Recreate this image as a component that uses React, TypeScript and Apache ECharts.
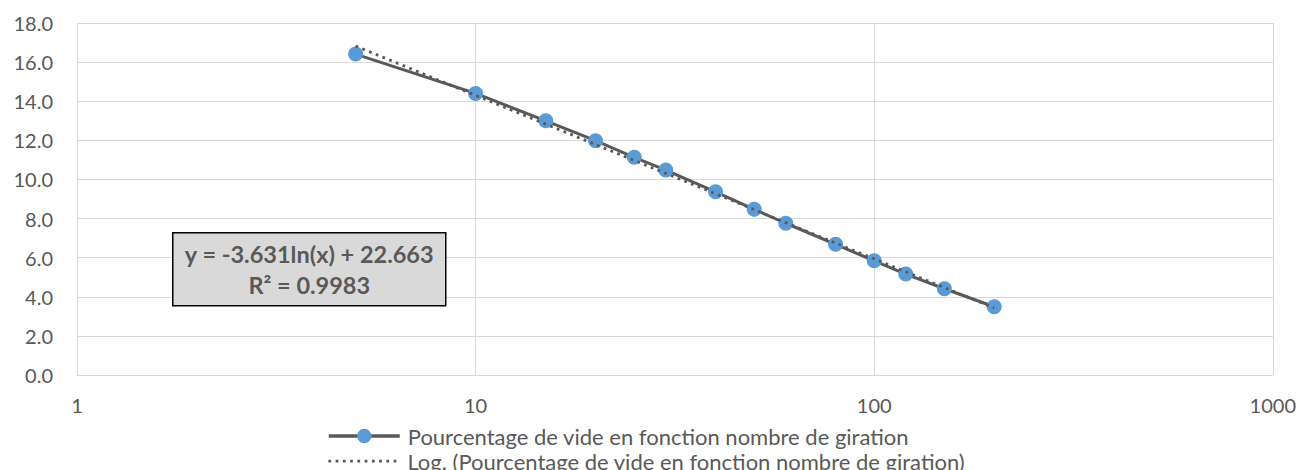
import React, { useEffect, useRef } from "react";
import * as echarts from "echarts";

// Nombre de girations (axe logarithmique) et pourcentage de vide mesuré
const girations = [5, 10, 15, 20, 25, 30, 40, 50, 60, 80, 100, 120, 150, 200];
const pourcentageVide = [16.41, 14.4, 13.0, 11.98, 11.13, 10.48, 9.37, 8.47, 7.76, 6.68, 5.84, 5.16, 4.41, 3.49];

// Courbe de tendance logarithmique : y = a·ln(x) + b
const trendA = -3.631;
const trendB = 22.663;
const trendR2 = 0.9983;
const trendX = [5, 200];

const serieNom = "Pourcentage de vide en fonction nombre de giration";
const tendanceNom = "Log. (Pourcentage de vide en fonction nombre de giration)";

const FONT = "Lato, 'Open Sans', sans-serif";
const GREY_TEXT = "#595959";
const GRID_GREY = "#d9d9d9";

// One legend row per component so the two rows stack under each other
const legendRow = (name: string, top: number, lineWidth: number) => ({
  orient: "vertical",
  left: 327,
  top,
  padding: 0,
  height: 40,
  itemWidth: 71,
  itemHeight: 18,
  itemGap: 6,
  lineStyle: { width: lineWidth },
  textStyle: {
    color: GREY_TEXT,
    fontSize: 22,
    lineHeight: 22,
    fontFamily: FONT,
    padding: [0, 0, 0, 3],
  },
  data: [name],
});

export default function App() {
  const ref = useRef<HTMLDivElement>(null);

  useEffect(() => {
    if (!ref.current) return;
    const chart = echarts.init(ref.current, undefined, { renderer: "svg" });

    const mesures = girations.map((x, i) => [x, pourcentageVide[i]]);
    const tendance = trendX.map((x) => [x, trendA * Math.log(x) + trendB]);
    const eqText = `y = ${trendA}ln(x) + ${trendB}\nR² = ${trendR2}`;

    chart.setOption({
      animation: false,
      backgroundColor: "#ffffff",
      textStyle: { fontFamily: FONT },
      grid: { left: 77, right: 26, top: 23, bottom: 95, containLabel: false },
      xAxis: {
        type: "log",
        logBase: 10,
        min: 1,
        max: 1000,
        axisLine: { show: true, lineStyle: { color: GRID_GREY, width: 1 } },
        axisTick: { show: false },
        axisLabel: {
          color: GREY_TEXT,
          fontSize: 20,
          fontFamily: FONT,
          margin: 20,
          formatter: (v: number) => String(Math.round(v)),
        },
        splitLine: { show: true, lineStyle: { color: GRID_GREY, width: 1 } },
      },
      yAxis: {
        type: "value",
        min: 0,
        max: 18,
        interval: 2,
        axisLine: { show: false },
        axisTick: { show: false },
        axisLabel: {
          color: GREY_TEXT,
          fontSize: 20,
          fontFamily: FONT,
          margin: 24,
          formatter: (v: number) => v.toFixed(1),
        },
        splitLine: { show: true, lineStyle: { color: GRID_GREY, width: 1 } },
      },
      legend: [legendRow(serieNom, 425, 3.5), legendRow(tendanceNom, 450, 2.75)],
      series: [
        {
          name: serieNom,
          type: "line",
          data: mesures,
          symbol: "circle",
          symbolSize: 15,
          itemStyle: { color: "#5b9bd5" },
          lineStyle: { color: "#595959", width: 3 },
          z: 2,
        },
        {
          name: tendanceNom,
          type: "line",
          data: tendance,
          symbol: "none",
          itemStyle: { color: "rgba(0,0,0,0)" },
          lineStyle: { color: "#595959", width: 2.75, type: [2.75, 4.5] },
          z: 3,
        },
      ],
      graphic: [
        {
          type: "group",
          left: 172,
          top: 232,
          z: 100,
          children: [
            {
              type: "rect",
              z: 100,
              shape: { x: 0, y: 0, width: 273, height: 73 },
              style: { fill: "#d9d9d9", stroke: "#000000", lineWidth: 1.5 },
            },
            {
              type: "text",
              z: 101,
              x: 136.5,
              y: 37,
              style: {
                text: eqText,
                fill: GREY_TEXT,
                font: `bold 23.5px ${FONT}`,
                align: "center",
                verticalAlign: "middle",
                lineHeight: 31,
              },
            },
          ],
        },
      ],
    });

    return () => chart.dispose();
  }, []);

  return (
    <div
      ref={ref}
      style={{ position: "fixed", left: 0, top: 0, width: 1299, height: 470 }}
    />
  );
}
